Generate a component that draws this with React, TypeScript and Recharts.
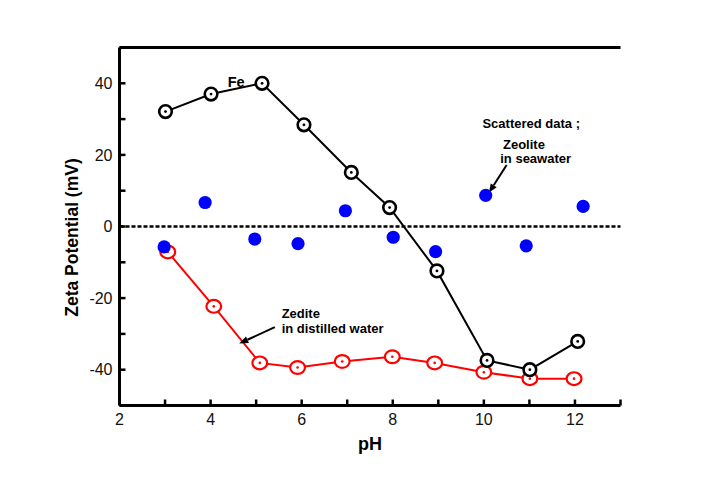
import React from 'react';
import {
  ComposedChart,
  Line,
  Scatter,
  XAxis,
  YAxis,
  ReferenceLine,
  ReferenceDot,
} from 'recharts';

// Fe (black open circles)
const feX = [3.01, 4.01, 5.13, 6.05, 7.09, 7.93, 8.97, 10.07, 11.01, 12.06];
const feY = [32.1, 37.0, 40.0, 28.4, 15.1, 5.3, -12.4, -37.4, -40.0, -32.1];
// Zeolite in distilled water (red open circles)
const distX = [3.06, 4.07, 5.08, 5.91, 6.89, 7.99, 8.92, 10.0, 11.01, 11.98];
const distY = [-7.1, -22.3, -38.1, -39.4, -37.7, -36.4, -38.1, -40.7, -42.5, -42.5];
// Zeolite in seawater (blue scattered)
const seaX = [2.98, 3.88, 4.97, 5.92, 6.96, 8.01, 8.94, 10.04, 10.93, 12.18];
const seaY = [-5.7, 6.7, -3.5, -4.8, 4.4, -3.0, -7.0, 8.7, -5.4, 5.6];

const xTicks = [2, 3, 4, 5, 6, 7, 8, 9, 10, 11, 12, 13];
const xLabeled = [2, 4, 6, 8, 10, 12];
const yTicks = [-50, -40, -30, -20, -10, 0, 10, 20, 30, 40, 50];
const yLabeled = [-40, -20, 0, 20, 40];

const feData = feX.map((ph, i) => ({ ph, v: feY[i] }));
const distData = distX.map((ph, i) => ({ ph, v: distY[i] }));
const seaData = seaX.map((ph, i) => ({ ph, v: seaY[i] }));

const FONT = '"Liberation Sans", Arial, sans-serif';
const tickStyle = { fontFamily: FONT, fontSize: 16, fill: '#111' };
const annoStyle: React.CSSProperties = {
  fontFamily: FONT,
  fontSize: 13,
  fontWeight: 'bold',
};

const FeDot = (p: any) => {
  if (p.cx == null || p.cy == null) return <g key={`fe-${p.index}`} />;
  return (
    <g key={`fe-${p.index}`}>
      <circle cx={p.cx} cy={p.cy} r={6.3} fill="#fff" stroke="#000" strokeWidth={2.6} />
      <circle cx={p.cx} cy={p.cy} r={1.4} fill="#000" />
    </g>
  );
};

const DistDot = (p: any) => {
  if (p.cx == null || p.cy == null) return <g key={`di-${p.index}`} />;
  return (
    <g key={`di-${p.index}`}>
      <ellipse cx={p.cx} cy={p.cy} rx={7.4} ry={6.4} fill="#fff" stroke="#ff0000" strokeWidth={2.2} />
      <circle cx={p.cx} cy={p.cy} r={1.3} fill="#ff0000" />
    </g>
  );
};

const SeaDot = (p: any) => (
  <circle cx={p.cx} cy={p.cy} r={6.6} fill="#0000ff" />
);

const Arrow = (p: any) => {
  const { x1, y1, x2, y2 } = p;
  if ([x1, y1, x2, y2].some((v) => v == null || isNaN(v))) return <g />;
  const ang = Math.atan2(y2 - y1, x2 - x1);
  const L = 9;
  const W = 3.5;
  const bx = x2 - L * Math.cos(ang);
  const by = y2 - L * Math.sin(ang);
  const px = -Math.sin(ang) * W;
  const py = Math.cos(ang) * W;
  return (
    <g>
      <line x1={x1} y1={y1} x2={bx} y2={by} stroke="#000" strokeWidth={2} />
      <polygon points={`${x2},${y2} ${bx + px},${by + py} ${bx - px},${by - py}`} fill="#000" />
    </g>
  );
};

const textShape = (txt: string, anchor: 'start' | 'middle', size = 13) => (p: any) => (
  <text
    x={p.cx}
    y={p.cy}
    textAnchor={anchor}
    style={{ ...annoStyle, fontSize: size }}
    fill="#000"
  >
    {txt}
  </text>
);

const YTitle = (p: any) => {
  const vb = p.viewBox;
  const cx = vb.x + 12;
  const cy = vb.y + vb.height / 2 + 11;
  return (
    <text
      x={cx}
      y={cy}
      transform={`rotate(-90, ${cx}, ${cy})`}
      textAnchor="middle"
      dominantBaseline="central"
      style={{ fontFamily: FONT, fontSize: 17.5, fontWeight: 'bold' }}
      fill="#000"
    >
      Zeta Potential (mV)
    </text>
  );
};

const XTitle = (p: any) => {
  const vb = p.viewBox;
  const cx = vb.x + vb.width / 2;
  const cy = vb.y + vb.height + 14.5;
  return (
    <text
      x={cx}
      y={cy}
      textAnchor="middle"
      style={{ fontFamily: FONT, fontSize: 18, fontWeight: 'bold' }}
      fill="#000"
    >
      pH
    </text>
  );
};

export default function App() {
  return (
    <div style={{ width: 690, height: 470 }}>
      <ComposedChart
        width={690}
        height={470}
        margin={{ top: 39.5, right: 77.5, left: 51.5, bottom: 42.5 }}
      >
        <XAxis
          dataKey="ph"
          type="number"
          domain={[2, 13]}
          ticks={xTicks}
          interval={0}
          allowDataOverflow
          height={30}
          tickSize={-6}
          tickMargin={14}
          tickFormatter={(v: number) => (xLabeled.includes(v) ? String(v) : '')}
          tick={tickStyle}
          axisLine={{ stroke: '#000', strokeWidth: 3 }}
          tickLine={{ stroke: '#000', strokeWidth: 2.5 }}
          label={<XTitle />}
        />
        <YAxis
          dataKey="v"
          type="number"
          domain={[-50, 50]}
          ticks={yTicks}
          interval={0}
          allowDataOverflow
          width={60}
          tickSize={-6}
          tickMargin={13}
          tickFormatter={(v: number) => (yLabeled.includes(v) ? String(v) : '')}
          tick={tickStyle}
          axisLine={{ stroke: '#000', strokeWidth: 3 }}
          tickLine={{ stroke: '#000', strokeWidth: 2.5 }}
          label={<YTitle />}
        />
        <YAxis
          yAxisId="r"
          orientation="right"
          type="number"
          domain={[-50, 50]}
          ticks={yTicks}
          interval={0}
          width={0}
          tickSize={-6}
          tick={false}
          axisLine={{ stroke: '#000', strokeWidth: 3 }}
          tickLine={{ stroke: '#000', strokeWidth: 2.5 }}
        />
        <ReferenceLine y={50} stroke="#000" strokeWidth={3} />
        <ReferenceLine y={0} stroke="#000" strokeWidth={2.5} strokeDasharray="4 2" />

        <Line
          data={distData}
          dataKey="v"
          stroke="#ff0000"
          strokeWidth={2}
          dot={DistDot}
          activeDot={false}
          isAnimationActive={false}
        />
        <Scatter data={seaData} dataKey="v" shape={SeaDot} isAnimationActive={false} />
        <Line
          data={feData}
          dataKey="v"
          stroke="#000"
          strokeWidth={2}
          dot={FeDot}
          activeDot={false}
          isAnimationActive={false}
        />

        <ReferenceDot x={4.56} y={39.0} r={0} shape={textShape('Fe', 'middle', 14.5)} />
        <ReferenceDot x={11.04} y={27.5} r={0} shape={textShape('Scattered data ;', 'middle')} />
        <ReferenceDot x={10.42} y={21.7} r={0} shape={textShape('Zeolite', 'start')} />
        <ReferenceDot x={10.36} y={17.7} r={0} shape={textShape('in seawater', 'start')} />
        <ReferenceLine
          segment={[{ x: 10.5, y: 17.2 }, { x: 10.11, y: 9.4 }]}
          shape={<Arrow />}
        />
        <ReferenceDot x={5.56} y={-25.5} r={0} shape={textShape('Zedite', 'start')} />
        <ReferenceDot x={5.56} y={-29.7} r={0} shape={textShape('in distilled water', 'start')} />
        <ReferenceLine
          segment={[{ x: 5.41, y: -28.1 }, { x: 4.63, y: -32.7 }]}
          shape={<Arrow />}
        />
      </ComposedChart>
    </div>
  );
}
